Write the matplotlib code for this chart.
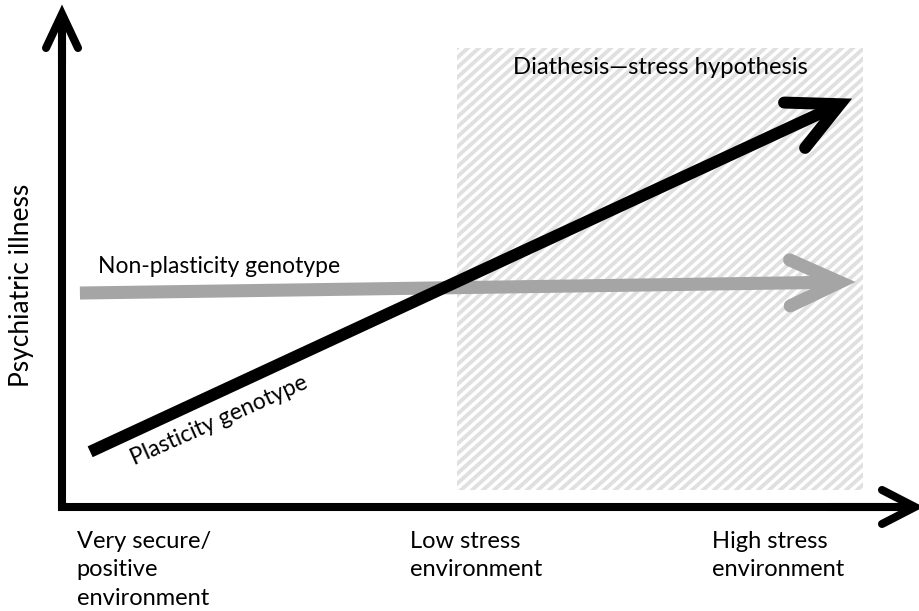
import numpy as np
import matplotlib
matplotlib.use("Agg")
import matplotlib.pyplot as plt
from matplotlib.patches import Rectangle
from matplotlib.transforms import IdentityTransform

plt.rcParams['font.family'] = ['Lato', 'DejaVu Sans']

# conceptual units: environment stress 0..10, psychiatric illness 0..10
plasticity_x = [0.33, 9.12]
plasticity_y = [1.12, 8.17]
nonplast_x = [0.21, 9.12]
nonplast_y = [4.34, 4.56]
region_x = [4.63, 9.39]
region_y = [0.34, 9.31]

env_labels = ["Very secure/\npositive\nenvironment", "Low stress\nenvironment",
              "High stress\nenvironment"]
env_label_x = [0.17, 4.08, 7.62]

fig = plt.figure(figsize=(9.19, 6.11), dpi=100)
ax = fig.add_axes([0, 0, 1, 1])
ax.set_xlim(-0.727, 10.047)
ax.set_ylim(-2.11, 10.284)
ax.axis('off')


def arrow(x, y, color, lw, head_len, head_w, z=3):
    # shaft with butt cap, open chevron head drawn in pixel space
    t = ax.transData
    p0 = t.transform((x[0], y[0]))
    p1 = t.transform((x[1], y[1]))
    d = (p1 - p0) / np.hypot(*(p1 - p0))
    n = np.array([-d[1], d[0]])
    lw_px = lw * 100 / 72
    s_end = t.inverted().transform(p1 - d * lw_px * 0.6)
    ax.plot([x[0], s_end[0]], [y[0], s_end[1]], color=color, lw=lw,
            solid_capstyle='butt', zorder=z)
    a1 = t.inverted().transform(p1 - d * head_len + n * head_w)
    a2 = t.inverted().transform(p1 - d * head_len - n * head_w)
    ax.plot([a1[0], x[1], a2[0]], [a1[1], y[1], a2[1]], color=color, lw=lw,
            solid_capstyle='round', solid_joinstyle='miter', zorder=z)


# hatched region: diagonal stripes clipped to the rectangle
rect = Rectangle((region_x[0], region_y[0]), region_x[1] - region_x[0],
                 region_y[1] - region_y[0], facecolor='white', lw=0, zorder=1)
ax.add_patch(rect)
(px0, py0) = ax.transData.transform((region_x[0], region_y[0]))
(px1, py1) = ax.transData.transform((region_x[1], region_y[1]))
slope = np.tan(np.radians(42))
h = py1 - py0
for c in np.arange(px0 - h / slope - 20, px1 + 20, 11.0):
    ln, = ax.plot([c, c + h / slope + 40], [py0 - 20 * slope, py1 + 20 * slope],
                  transform=IdentityTransform(), color='#e0e0e0', lw=2.8,
                  solid_capstyle='butt', zorder=1.5)
    ln.set_clip_path(rect)

# axes
ax.plot([0, 0, 10], [10, 0, 0], color='black', lw=5.8,
        solid_joinstyle='miter', solid_capstyle='butt', zorder=4)
arrow([0, 0], [9.0, 10], 'black', 5.8, 34, 16, z=4)
arrow([9.0, 10], [0, 0], 'black', 5.8, 33, 17, z=4)

arrow(nonplast_x, nonplast_y, '#a5a5a5', 9.4, 50, 23)
arrow(plasticity_x, plasticity_y, 'black', 8.6, 50, 25)

ax.text(-0.47, 4.5, "Psychiatric illness", rotation=90, fontsize=19,
        ha='center', va='center')
ax.text(0.42, 4.74, "Non-plasticity genotype", fontsize=16.5, ha='left',
        va='baseline')
ax.text(0.85, 0.84, "Plasticity genotype", fontsize=16.5, rotation=24,
        ha='left', va='baseline', rotation_mode='anchor')
ax.text(7.01, 8.92, "Diathesis\u2014stress hypothesis", fontsize=17.2,
        ha='center', va='center')

for lab, lx in zip(env_labels, env_label_x):
    ax.text(lx, -0.48, lab, fontsize=17, ha='left', va='top', linespacing=1.45)

fig.savefig("out.png", dpi=100)
